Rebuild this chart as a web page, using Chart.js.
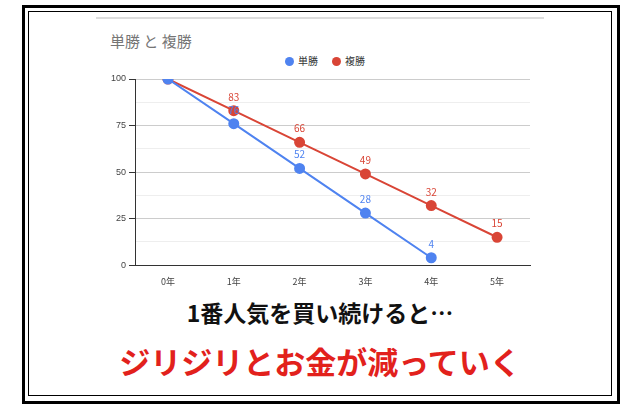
<!DOCTYPE html><html><head><meta charset="utf-8">
<script src="https://cdn.jsdelivr.net/npm/chart.js"></script>
<style>
body{margin:0;width:640px;height:409px;background:#fff;font-family:"Noto Sans CJK JP",sans-serif;position:relative;overflow:hidden}
#f1{position:absolute;left:22px;top:5px;width:592px;height:393px;border:3px solid #000}
#f2{position:absolute;left:28px;top:11px;width:582px;height:383px;border:1px solid #000}
#topline{position:absolute;left:96px;top:17px;width:448px;height:2px;background:#ddd}
#title{position:absolute;left:110px;top:30px;font-size:15px;color:#757575}
#legend{position:absolute;left:285px;top:53px;font-size:10px;color:#333;display:flex;gap:6px;align-items:center}
.dot{display:inline-block;width:9px;height:9px;border-radius:50%;margin-right:4px;vertical-align:-1px}
#c{position:absolute;left:96px;top:20px}
#t1{position:absolute;left:0;width:640px;text-align:center;top:295px;font-size:23px;font-weight:bold;color:#111}
#t2{position:absolute;left:0;width:640px;text-align:center;top:338px;font-size:31px;font-weight:bold;color:#e2211c}
</style></head><body>
<div id="f1"></div><div id="f2"></div><div id="topline"></div>
<div id="title">単勝 と 複勝</div>
<div id="legend"><span><span class="dot" style="background:#4f83f0"></span>単勝</span><span style="margin-left:8px"><span class="dot" style="background:#d94536"></span>複勝</span></div>
<canvas id="c" width="448" height="270"></canvas>
<div id="t1">1番人気を買い続けると…</div>
<div id="t2">ジリジリとお金が減っていく</div>
<script>
const categories=["0年","1年","2年","3年","4年","5年"];
const tansho=[100,76,52,28,4,null];
const fukusho=[100,83,66,49,32,15];
const labelsPlugin={id:'lbl',afterDatasetsDraw(ch){const c=ch.ctx;c.save();c.font='10px "Noto Sans CJK JP"';c.textAlign='center';
ch.data.datasets.forEach((d,i)=>{const m=ch.getDatasetMeta(i);c.fillStyle=d.borderColor;m.data.forEach((p,j)=>{if(j===0||d.data[j]==null)return;c.fillText(d.data[j],p.x,p.y-10);});});c.restore();}};
new Chart(document.getElementById('c'),{type:'line',data:{labels:categories,datasets:[
{label:'単勝',data:tansho,borderColor:'#4f83f0',backgroundColor:'#4f83f0',pointRadius:4.5,borderWidth:2},
{label:'複勝',data:fukusho,borderColor:'#d94536',backgroundColor:'#d94536',pointRadius:4.5,borderWidth:2}]},
options:{responsive:false,animation:false,layout:{padding:{top:59,right:14,left:12,bottom:0}},
plugins:{legend:{display:false},tooltip:{enabled:false}},
scales:{x:{offset:true,grid:{display:false},border:{color:'#333'},ticks:{color:'#444',font:{size:9,family:'"Noto Sans CJK JP"'}}},
y:{min:0,max:100,ticks:{stepSize:12.5,color:'#444',font:{size:9},callback:v=>v%25===0?v:''},
grid:{color:c=>c.tick.value%25===0?'#ccc':'#eee',tickLength:6,tickColor:c=>c.tick.value%25===0?'#333':'transparent'},border:{color:'#333'}}}},
plugins:[labelsPlugin]});
</script></body></html>
